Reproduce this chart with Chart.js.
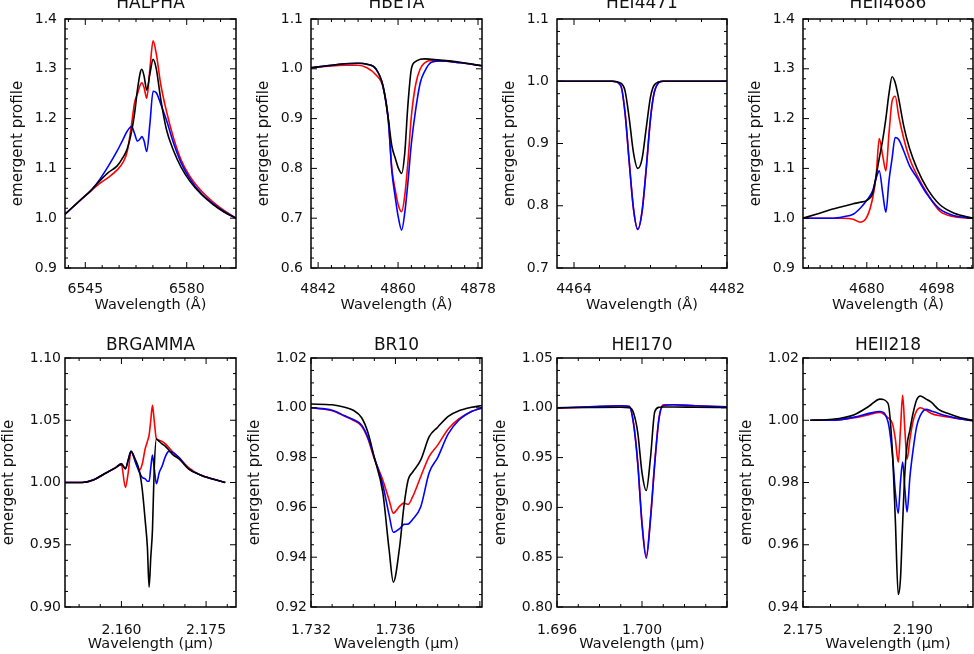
<!DOCTYPE html>
<html>
<head>
<meta charset="utf-8">
<script src="https://cdn.jsdelivr.net/npm/chart.js@4.4.1/dist/chart.umd.min.js"></script>
<style>
  html, body { margin: 0; padding: 0; background: #fff; overflow: hidden; }
  body { width: 974px; height: 654px; position: relative; }
  canvas { position: absolute; }
</style>
</head>
<body>
<script>
// ---- H alpha ----
var haWave  = [6538, 6541, 6544, 6547, 6550, 6553, 6556, 6558, 6559.5, 6561, 6562, 6563, 6564, 6564.5, 6565.3, 6566.2, 6567.3, 6568.4, 6569.5, 6571, 6573, 6575.5, 6578, 6581, 6585, 6589, 6593, 6597];
var haBlack = [1.008, 1.024, 1.040, 1.056, 1.075, 1.092, 1.105, 1.122, 1.140, 1.175, 1.210, 1.258, 1.293, 1.299, 1.285, 1.257, 1.290, 1.319, 1.300, 1.240, 1.178, 1.135, 1.103, 1.075, 1.048, 1.028, 1.012, 1.000];
var haRed   = [1.008, 1.024, 1.040, 1.055, 1.070, 1.082, 1.097, 1.112, 1.135, 1.190, 1.232, 1.250, 1.268, 1.272, 1.262, 1.241, 1.300, 1.356, 1.330, 1.270, 1.215, 1.160, 1.118, 1.085, 1.055, 1.033, 1.015, 1.000];
var haBlue  = [1.008, 1.024, 1.040, 1.056, 1.078, 1.105, 1.135, 1.158, 1.175, 1.184, 1.170, 1.155, 1.160, 1.164, 1.155, 1.134, 1.190, 1.255, 1.252, 1.230, 1.197, 1.150, 1.112, 1.080, 1.050, 1.030, 1.013, 1.000];
var haXTicks = [6545, 6580];
var haYTicks = [0.9, 1.0, 1.1, 1.2, 1.3, 1.4];

// ---- H beta ----
var hbWave  = [4840.4, 4844, 4848, 4851, 4853, 4855, 4856.6, 4857.8, 4858.6, 4859.4, 4860.1, 4860.8, 4861.5, 4862.2, 4863, 4864, 4865, 4866, 4867.5, 4870, 4874, 4878.9];
var hbBlack = [1.002, 1.006, 1.010, 1.011, 1.009, 1.000, 0.966, 0.900, 0.845, 0.820, 0.800, 0.790, 0.830, 0.925, 1.000, 1.015, 1.019, 1.020, 1.019, 1.017, 1.013, 1.006];
var hbRed   = [1.002, 1.005, 1.007, 1.007, 1.002, 0.988, 0.964, 0.898, 0.800, 0.755, 0.725, 0.713, 0.745, 0.810, 0.905, 0.970, 1.000, 1.012, 1.017, 1.016, 1.012, 1.006];
var hbBlue  = [1.002, 1.006, 1.010, 1.011, 1.009, 1.000, 0.966, 0.898, 0.795, 0.740, 0.700, 0.676, 0.710, 0.770, 0.850, 0.920, 0.972, 0.995, 1.013, 1.016, 1.012, 1.006];
var hbXTicks = [4842, 4860, 4878];
var hbYTicks = [0.6, 0.7, 0.8, 0.9, 1.0, 1.1];

// ---- He I 4471 ----
var h4471Wave  = [4462, 4466, 4468.5, 4469.5, 4470, 4470.5, 4471, 4471.5, 4472, 4472.5, 4473, 4473.5, 4474.5, 4477, 4482];
var h4471Black = [1.0, 1.0, 1.0, 0.997, 0.985, 0.940, 0.885, 0.860, 0.875, 0.925, 0.975, 0.995, 1.0, 1.0, 1.0];
var h4471Red   = [1.0, 1.0, 1.0, 0.993, 0.950, 0.870, 0.795, 0.762, 0.790, 0.860, 0.940, 0.985, 1.0, 1.0, 1.0];
var h4471Blue  = [1.0, 1.0, 1.0, 0.993, 0.950, 0.870, 0.795, 0.762, 0.790, 0.860, 0.940, 0.985, 1.0, 1.0, 1.0];
var h4471XTicks = [4464, 4482];
var h4471YTicks = [0.7, 0.8, 0.9, 1.0, 1.1];

// ---- He II 4686 ----
var h4686Wave  = [4663.6, 4667, 4671, 4674, 4676.5, 4678.3, 4680, 4681.5, 4682.4, 4683.2, 4684.1, 4684.9, 4685.7, 4686.5, 4687.3, 4688.2, 4689.5, 4691, 4693, 4695.5, 4698.8, 4702.5, 4707.3];
var h4686Black = [1.0, 1.008, 1.018, 1.024, 1.029, 1.032, 1.036, 1.050, 1.085, 1.120, 1.158, 1.200, 1.250, 1.284, 1.272, 1.240, 1.185, 1.140, 1.098, 1.060, 1.027, 1.010, 1.0];
var h4686Red   = [1.0, 1.0, 1.0, 1.0, 0.998, 0.992, 1.002, 1.040, 1.085, 1.160, 1.125, 1.095, 1.170, 1.235, 1.245, 1.205, 1.160, 1.120, 1.085, 1.050, 1.014, 1.003, 1.0];
var h4686Blue  = [1.0, 1.0, 1.0, 1.003, 1.008, 1.020, 1.036, 1.055, 1.080, 1.095, 1.050, 1.012, 1.075, 1.120, 1.162, 1.158, 1.135, 1.105, 1.080, 1.048, 1.018, 1.005, 1.0];
var h4686XTicks = [4680, 4698];
var h4686YTicks = [0.9, 1.0, 1.1, 1.2, 1.3, 1.4];

// ---- Br gamma ----
var brgWave  = [2.1500, 2.1530, 2.1550, 2.1570, 2.1590, 2.1600, 2.1607, 2.1612, 2.1617, 2.1625, 2.1632, 2.1637, 2.1642, 2.1646, 2.1649, 2.1652, 2.1655, 2.1658, 2.1662, 2.1667, 2.1672, 2.1678, 2.1684, 2.1692, 2.1702, 2.1719, 2.1740, 2.1760, 2.1784];
var brgBlack = [1.000, 1.000, 1.002, 1.007, 1.012, 1.015, 1.011, 1.018, 1.025, 1.018, 1.009, 0.994, 0.970, 0.948, 0.916, 0.940, 0.962, 1.010, 1.035, 1.033, 1.031, 1.029, 1.026, 1.022, 1.019, 1.011, 1.006, 1.003, 1.000];
var brgRed   = [1.000, 1.000, 1.002, 1.007, 1.012, 1.014, 0.996, 1.008, 1.025, 1.017, 1.010, 1.015, 1.027, 1.033, 1.038, 1.050, 1.062, 1.050, 1.035, 1.034, 1.033, 1.031, 1.028, 1.024, 1.020, 1.012, 1.006, 1.003, 1.000];
var brgBlue  = [1.000, 1.000, 1.002, 1.007, 1.012, 1.015, 1.011, 1.018, 1.025, 1.016, 1.008, 1.004, 1.003, 1.001, 1.001, 1.012, 1.022, 1.012, 0.999, 1.008, 1.013, 1.021, 1.025, 1.024, 1.020, 1.011, 1.006, 1.003, 1.000];
var brgXTicks = [2.160, 2.175];
var brgYTicks = [0.90, 0.95, 1.00, 1.05, 1.10];

// ---- Br 10 ----
var br10Wave  = [1.7320, 1.7330, 1.7336, 1.7340, 1.7344, 1.7347, 1.7350, 1.7354, 1.7357, 1.7359, 1.7362, 1.7364, 1.7366, 1.7368, 1.7372, 1.7376, 1.7380, 1.7385, 1.7390, 1.7396, 1.7401];
var br10Black = [1.0015, 1.0012, 1.0002, 0.9990, 0.9960, 0.9900, 0.9800, 0.9660, 0.9430, 0.9300, 0.9443, 0.9603, 0.9710, 0.9740, 0.9791, 0.9884, 0.9922, 0.9966, 0.9988, 1.0002, 1.0009];
var br10Red   = [1.0000, 0.9988, 0.9966, 0.9950, 0.9926, 0.9875, 0.9795, 0.9710, 0.9630, 0.9577, 0.9605, 0.9617, 0.9612, 0.9640, 0.9724, 0.9805, 0.9850, 0.9915, 0.9955, 0.9985, 1.0000];
var br10Blue  = [1.0000, 0.9990, 0.9968, 0.9953, 0.9930, 0.9880, 0.9800, 0.9690, 0.9570, 0.9500, 0.9515, 0.9532, 0.9533, 0.9550, 0.9603, 0.9740, 0.9800, 0.9895, 0.9950, 0.9985, 1.0000];
var br10XTicks = [1.732, 1.736];
var br10YTicks = [0.92, 0.94, 0.96, 0.98, 1.00, 1.02];

// ---- He I 1.70 ----
var h170Wave  = [1.6960, 1.6975, 1.6990, 1.6994, 1.6996, 1.6998, 1.7000, 1.7002, 1.7004, 1.7006, 1.7008, 1.7010, 1.7015, 1.7025, 1.7040];
var h170Black = [1.0000, 1.0003, 1.0005, 1.0002, 0.995, 0.975, 0.935, 0.917, 0.950, 0.996, 1.0005, 1.0008, 1.0008, 1.0005, 1.0003];
var h170Red   = [0.9997, 1.0008, 1.0020, 1.0015, 0.985, 0.945, 0.885, 0.851, 0.890, 0.945, 0.990, 1.003, 1.003, 1.002, 1.001];
var h170Blue  = [1.0000, 1.0010, 1.0020, 1.0012, 0.984, 0.944, 0.883, 0.849, 0.888, 0.944, 0.989, 1.002, 1.003, 1.002, 1.001];
var h170XTicks = [1.696, 1.700];
var h170YTicks = [0.80, 0.85, 0.90, 0.95, 1.00, 1.05];

// ---- He II 2.18 ----
var h218Wave  = [2.1760, 2.1790, 2.1820, 2.1840, 2.1855, 2.1866, 2.1872, 2.1876, 2.1880, 2.1883, 2.1886, 2.1889, 2.1892, 2.1896, 2.1900, 2.1905, 2.1910, 2.1918, 2.1925, 2.1935, 2.1950, 2.1965, 2.1982];
var h218Black = [1.0000, 1.0003, 1.0018, 1.0045, 1.0068, 1.0054, 0.9900, 0.9680, 0.9440, 0.9490, 0.9670, 0.9830, 0.9920, 0.9970, 1.0020, 1.0065, 1.0078, 1.0068, 1.0058, 1.0035, 1.0020, 1.0008, 1.0000];
var h218Red   = [1.0000, 1.0000, 1.0008, 1.0018, 1.0025, 1.0008, 0.9990, 0.9940, 0.9865, 0.9970, 1.0080, 0.9970, 0.9875, 0.9940, 0.9995, 1.0030, 1.0040, 1.0032, 1.0022, 1.0015, 1.0010, 1.0004, 0.9998];
var h218Blue  = [1.0000, 1.0000, 1.0010, 1.0022, 1.0028, 0.9995, 0.9890, 0.9770, 0.9701, 0.9800, 0.9866, 0.9780, 0.9705, 0.9820, 0.9900, 0.9979, 1.0015, 1.0035, 1.0030, 1.0022, 1.0012, 1.0004, 0.9998];
var h218XTicks = [2.175, 2.190];
var h218YTicks = [0.94, 0.96, 0.98, 1.00, 1.02];

var panels = [
  {title: 'HALPHA',   unit: 'Å', wave: haWave,    black: haBlack,    red: haRed,    blue: haBlue,    xmin: 6538,   xmax: 6597,   ymin: 0.9,  ymax: 1.4,  xt: haXTicks,    yt: haYTicks,    xd: 0, yd: 1},
  {title: 'HBETA',    unit: 'Å', wave: hbWave,    black: hbBlack,    red: hbRed,    blue: hbBlue,    xmin: 4840.4, xmax: 4878.9, ymin: 0.6,  ymax: 1.1,  xt: hbXTicks,    yt: hbYTicks,    xd: 0, yd: 1},
  {title: 'HEI4471',  unit: 'Å', wave: h4471Wave, black: h4471Black, red: h4471Red, blue: h4471Blue, xmin: 4462,   xmax: 4482,   ymin: 0.7,  ymax: 1.1,  xt: h4471XTicks, yt: h4471YTicks, xd: 0, yd: 1},
  {title: 'HEII4686', unit: 'Å', wave: h4686Wave, black: h4686Black, red: h4686Red, blue: h4686Blue, xmin: 4663.6, xmax: 4707.3, ymin: 0.9,  ymax: 1.4,  xt: h4686XTicks, yt: h4686YTicks, xd: 0, yd: 1},
  {title: 'BRGAMMA',  unit: 'μm', wave: brgWave,  black: brgBlack,   red: brgRed,   blue: brgBlue,   xmin: 2.150,  xmax: 2.1803, ymin: 0.90, ymax: 1.10, xt: brgXTicks,   yt: brgYTicks,   xd: 3, yd: 2},
  {title: 'BR10',     unit: 'μm', wave: br10Wave, black: br10Black,  red: br10Red,  blue: br10Blue,  xmin: 1.732,  xmax: 1.7401, ymin: 0.92, ymax: 1.02, xt: br10XTicks,  yt: br10YTicks,  xd: 3, yd: 2},
  {title: 'HEI170',   unit: 'μm', wave: h170Wave, black: h170Black,  red: h170Red,  blue: h170Blue,  xmin: 1.696,  xmax: 1.704,  ymin: 0.80, ymax: 1.05, xt: h170XTicks,  yt: h170YTicks,  xd: 3, yd: 2},
  {title: 'HEII218',  unit: 'μm', wave: h218Wave, black: h218Black,  red: h218Red,  blue: h218Blue,  xmin: 2.175,  xmax: 2.1982, ymin: 0.94, ymax: 1.02, xt: h218XTicks,  yt: h218YTicks,  xd: 3, yd: 2}
];

var colLeft = [65, 311, 557, 803];
var colWidth = [171, 171, 170, 170];
var FONT = 'DejaVu Sans';

// IDL style frame: box on four sides, major and minor ticks pointing inwards, plus title
var idlFrame = {
  id: 'idlFrame',
  afterDatasetsDraw: function(chart, args, opts) {
    var ctx = chart.ctx, a = chart.chartArea;
    var xs = chart.scales.x, ys = chart.scales.y;
    ctx.save();
    ctx.strokeStyle = '#000';
    ctx.lineWidth = 1;
    function marks(scale, nMinor, draw) {
      var majors = scale.ticks.map(function(t) { return t.value; });
      var step = (majors[1] - majors[0]) / nMinor;
      var k0 = Math.ceil((scale.min - majors[0]) / step - 1e-6);
      var k1 = Math.floor((scale.max - majors[0]) / step + 1e-6);
      for (var k = k0; k <= k1; k++) {
        var isMajor = ((k % nMinor) + nMinor) % nMinor === 0;
        draw(scale.getPixelForValue(majors[0] + k * step), isMajor ? 6 : 3);
      }
    }
    ctx.beginPath();
    marks(xs, opts.xMinor, function(px, len) {
      ctx.moveTo(px, a.bottom); ctx.lineTo(px, a.bottom - len);
      ctx.moveTo(px, a.top); ctx.lineTo(px, a.top + len);
    });
    marks(ys, opts.yMinor, function(py, len) {
      ctx.moveTo(a.left, py); ctx.lineTo(a.left + len, py);
      ctx.moveTo(a.right, py); ctx.lineTo(a.right - len, py);
    });
    ctx.stroke();
    ctx.lineWidth = 1.5;
    ctx.strokeRect(a.left, a.top, a.right - a.left, a.bottom - a.top);
    ctx.fillStyle = '#111';
    ctx.font = '17px "' + FONT + '"';
    ctx.textAlign = 'center';
    ctx.textBaseline = 'alphabetic';
    ctx.fillText(opts.title, (a.left + a.right) / 2, opts.titleY);
    ctx.restore();
  }
};

function series(wave, vals, color) {
  return {
    data: wave.map(function(w, i) { return {x: w, y: vals[i]}; }),
    borderColor: color,
    borderWidth: 1.6,
    pointRadius: 0,
    fill: false,
    cubicInterpolationMode: 'monotone'
  };
}

panels.forEach(function(p, i) {
  var row = Math.floor(i / 4), col = i % 4;
  var cv = document.createElement('canvas');
  var h = row ? 334 : 320;
  cv.width = 261;
  cv.height = h;
  cv.style.left = (colLeft[col] - 66) + 'px';
  cv.style.top = (row ? 320 : 0) + 'px';
  document.body.appendChild(cv);

  new Chart(cv, {
    type: 'line',
    data: {
      datasets: [
        series(p.wave, p.black, '#000000'),
        series(p.wave, p.blue, '#0000ff'),
        series(p.wave, p.red, '#ff0000')
      ]
    },
    plugins: [idlFrame],
    options: {
      responsive: false,
      animation: false,
      devicePixelRatio: 1,
      layout: { padding: { left: 0, top: row ? 38 : 19, right: 261 - 66 - colWidth[col], bottom: 0 } },
      plugins: {
        legend: { display: false },
        tooltip: { enabled: false },
        idlFrame: { title: p.title, titleY: row ? 30 : 8, xMinor: row ? 4 : 6, yMinor: row ? 4 : 5 }
      },
      scales: {
        x: {
          type: 'linear',
          min: p.xmin,
          max: p.xmax,
          grid: { display: false, drawTicks: false },
          border: { display: false },
          afterBuildTicks: function(s) { s.ticks = p.xt.map(function(v) { return {value: v}; }); },
          afterFit: function(s) { s.height = row ? 47 : 52; s.paddingLeft = 0; s.paddingRight = 0; },
          ticks: {
            autoSkip: false, maxRotation: 0, padding: row ? 14.5 : 12.5,
            color: '#111', font: { family: FONT, size: 14 },
            callback: function(v) { return Number(v).toFixed(p.xd); }
          },
          title: {
            display: true, text: 'Wavelength (' + p.unit + ')', color: '#111',
            font: { family: FONT, size: 14.5 }, padding: { top: 0, bottom: row ? 1 : 6 }
          }
        },
        y: {
          type: 'linear',
          min: p.ymin,
          max: p.ymax,
          grid: { display: false, drawTicks: false },
          border: { display: false },
          afterBuildTicks: function(s) { s.ticks = p.yt.map(function(v) { return {value: v}; }); },
          afterFit: function(s) { s.width = 66; s.paddingTop = 0; s.paddingBottom = 0; },
          ticks: {
            padding: row ? 4 : 8,
            color: '#111', font: { family: FONT, size: 14 },
            callback: function(v) { return Number(v).toFixed(p.yd); }
          },
          title: {
            display: true, text: 'emergent profile', color: '#111',
            font: { family: FONT, size: 15 }, padding: { top: row ? 1.5 : 10.5, bottom: 0 }
          }
        }
      }
    }
  });
});
</script>
</body>
</html>
